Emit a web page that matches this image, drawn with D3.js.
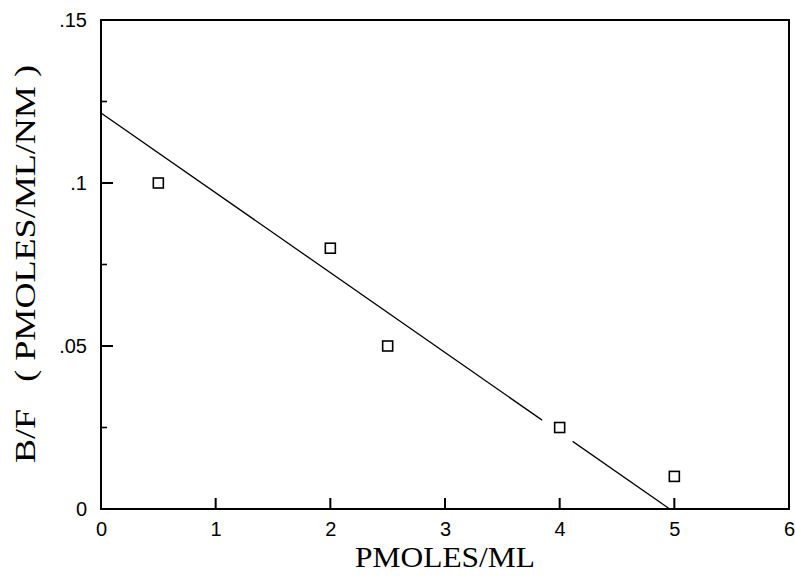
<!DOCTYPE html>
<html>
<head>
<meta charset="utf-8">
<script src="https://cdn.jsdelivr.net/npm/d3@7"></script>
<style>
  html, body { margin: 0; padding: 0; background: #fff; }
  svg { display: block; }
</style>
</head>
<body>
<svg id="chart" width="795" height="576"></svg>
<script>
// ---- data ----
const pointX = [0.5, 2.0, 2.5, 4.0, 5.0];
const pointY = [0.100, 0.080, 0.050, 0.025, 0.010];
const fitX = [0, 4.96];
const fitY = [0.1215, 0];
const xTicks = [0, 1, 2, 3, 4, 5, 6];
const yMajorTicks = [0, 0.05, 0.10, 0.15];
const yMinorTicks = [0.025, 0.075, 0.125];
const xTitle = "PMOLES/ML";
const yTitle = "B/F   ( PMOLES/ML/NM )";

(function () {
  const svg = d3.select("#chart");
  const mLeft = 101, mRight = 789, mTop = 20, mBottom = 509;
  const x = d3.scaleLinear().domain([0, 6]).range([mLeft, mRight]);
  const y = d3.scaleLinear().domain([0, 0.15]).range([mBottom, mTop]);

  const yFmt = d => d === 0 ? "0" : d3.format(".2~f")(d).replace(/^0/, "");

  // frame
  svg.append("rect")
    .attr("x", mLeft).attr("y", mTop)
    .attr("width", mRight - mLeft).attr("height", mBottom - mTop)
    .attr("fill", "none").attr("stroke", "#000").attr("stroke-width", 2);

  // tick marks (inward)
  const tickData = []
    .concat(xTicks.filter(d => d > 0 && d < 6).map(d => ({ x1: x(d), y1: mBottom, x2: x(d), y2: mBottom - 11, w: 2 })))
    .concat(yMajorTicks.filter(d => d > 0 && d < 0.15).map(d => ({ x1: mLeft, y1: y(d), x2: mLeft + 12, y2: y(d), w: 2 })))
    .concat(yMinorTicks.map(d => ({ x1: mLeft, y1: y(d), x2: mLeft + 6, y2: y(d), w: 1.6 })));
  svg.append("g").selectAll("rect").data(tickData).join("rect")
    .attr("x", d => Math.min(d.x1, d.x2) - (d.x1 === d.x2 ? d.w / 2 : 0))
    .attr("y", d => Math.min(d.y1, d.y2) - (d.y1 === d.y2 ? d.w / 2 : 0))
    .attr("width", d => d.x1 === d.x2 ? d.w : Math.abs(d.x2 - d.x1))
    .attr("height", d => d.y1 === d.y2 ? d.w : Math.abs(d.y2 - d.y1))
    .attr("fill", "#000");

  // fit line
  svg.append("line")
    .attr("x1", x(fitX[0])).attr("y1", y(fitY[0]))
    .attr("x2", x(fitX[1])).attr("y2", y(fitY[1]))
    .attr("stroke", "#000").attr("stroke-width", 1.3);

  // x axis labels
  const xAxis = d3.axisBottom(x).tickValues(xTicks).tickSize(0)
    .tickPadding(13).tickFormat(d3.format("d"));
  const gx = svg.append("g").attr("transform", `translate(0,${mBottom})`).call(xAxis);
  gx.select(".domain").remove();
  gx.selectAll(".tick line").remove();
  gx.selectAll(".tick text").attr("font-family", "Liberation Sans, Arial, sans-serif")
    .attr("font-size", 20).attr("fill", "#000");

  const yAxis = d3.axisLeft(y).tickValues(yMajorTicks).tickSize(0)
    .tickPadding(14).tickFormat(yFmt);
  const gy = svg.append("g").attr("transform", `translate(${mLeft},0)`).call(yAxis);
  gy.select(".domain").remove();
  gy.selectAll(".tick line").remove();
  gy.selectAll(".tick text").attr("font-family", "Liberation Sans, Arial, sans-serif")
    .attr("font-size", 20).attr("fill", "#000");

  // points with white halo (line breaks around markers)
  const pts = pointX.map((v, i) => ({ x: v, y: pointY[i] }));
  svg.append("g").selectAll("circle").data(pts).join("circle")
    .attr("cx", d => x(d.x)).attr("cy", d => y(d.y)).attr("r", 19)
    .attr("fill", "#fff");
  svg.append("g").selectAll("rect").data(pts).join("rect")
    .attr("x", d => x(d.x) - 5).attr("y", d => y(d.y) - 5)
    .attr("width", 10).attr("height", 10)
    .attr("fill", "#fff").attr("stroke", "#000").attr("stroke-width", 1.6);

  // axis titles
  svg.append("text")
    .attr("x", 445).attr("y", 567)
    .attr("text-anchor", "middle")
    .attr("font-family", "Liberation Serif, Times New Roman, serif")
    .attr("font-size", 30)
    .attr("textLength", 180).attr("lengthAdjust", "spacingAndGlyphs")
    .text(xTitle);

  svg.append("text")
    .attr("transform", "translate(35,264) rotate(-90)")
    .attr("text-anchor", "middle")
    .attr("font-family", "Liberation Serif, Times New Roman, serif")
    .attr("font-size", 30)
    .attr("textLength", 398).attr("lengthAdjust", "spacingAndGlyphs")
    .style("white-space", "pre")
    .text(yTitle);
})();
</script>
</body>
</html>
